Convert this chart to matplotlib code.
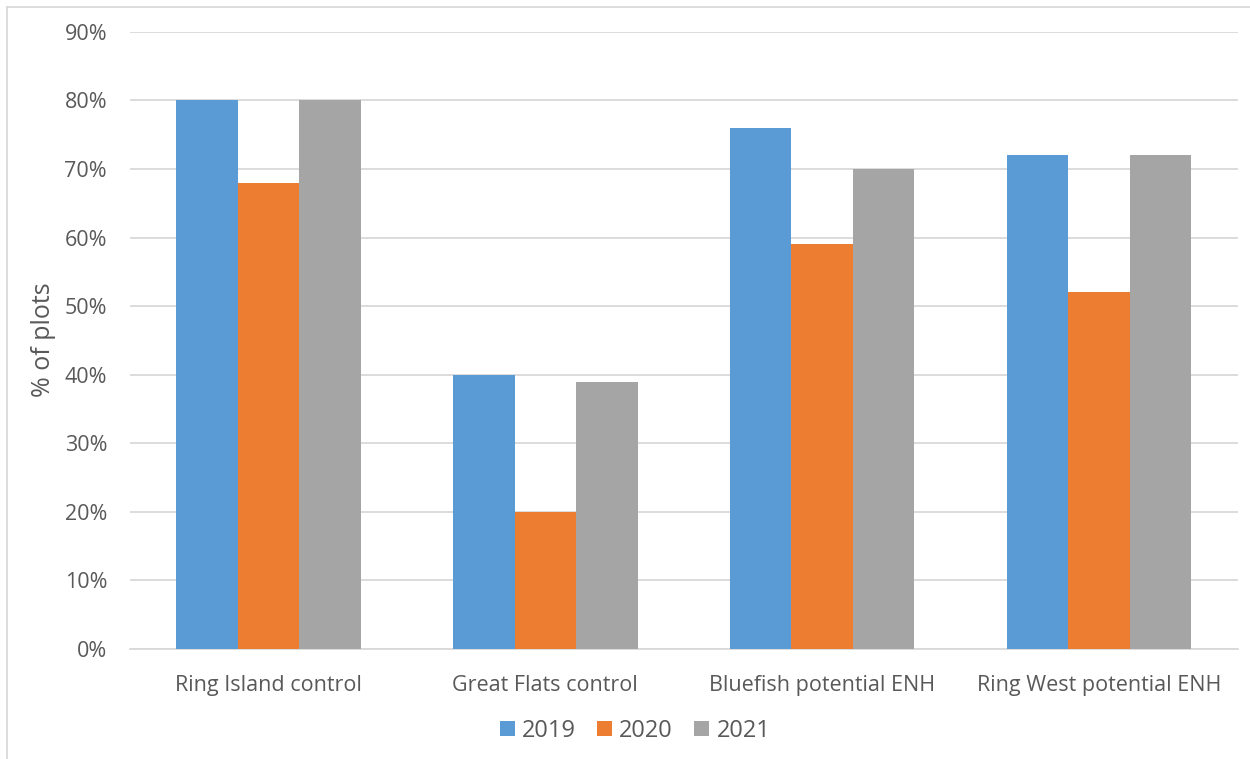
import numpy as np
import matplotlib.pyplot as plt
from matplotlib.lines import Line2D

categories = ['Ring Island control', 'Great Flats control',
              'Bluefish potential ENH', 'Ring West potential ENH']
years = ['2019', '2020', '2021']
vals_2019 = [80, 40, 76, 72]
vals_2020 = [68, 20, 59, 52]
vals_2021 = [80, 39, 70, 72]
colors = ['#5B9BD5', '#ED7D31', '#A5A5A5']

plt.rcParams['font.family'] = ['Open Sans', 'DejaVu Sans']
text_col = '#595959'
grid_col = '#D9D9D9'

fig = plt.figure(figsize=(12.5, 7.59), dpi=100)
ax = fig.add_axes([0.104, 0.145, 0.886, 0.813])

x = np.arange(len(categories))
w = 0.222
for i, (vals, c, lab) in enumerate(zip([vals_2019, vals_2020, vals_2021], colors, years)):
    ax.bar(x + (i - 1) * w, vals, width=w, color=c, label=lab, zorder=3)

ax.set_xlim(-0.5, len(categories) - 0.5)
ax.set_ylim(0, 90)
ax.set_yticks(range(0, 91, 10))
ax.set_yticklabels([f'{v}%' for v in range(0, 91, 10)])
ax.set_xticks(x)
ax.set_xticklabels(categories)
ax.yaxis.grid(True, color=grid_col, linewidth=1.3, zorder=0)
ax.tick_params(axis='both', length=0, labelsize=15.5, colors=text_col)
ax.tick_params(axis='y', pad=16.5)
ax.tick_params(axis='x', pad=19)
for s in ['top', 'right', 'left']:
    ax.spines[s].set_visible(False)
ax.spines['bottom'].set_color(grid_col)
ax.spines['bottom'].set_linewidth(1.3)
fig.text(44 / 1250, 1 - 340 / 759, '% of plots', rotation=90, ha='center', va='center',
         fontsize=18, color=text_col)

leg = fig.legend(loc='center', bbox_to_anchor=(0.508, 0.037), ncol=3, frameon=False,
                 fontsize=17, handlelength=0.64, handleheight=0.64, handletextpad=0.3,
                 columnspacing=0.9)
for t in leg.get_texts():
    t.set_color(text_col)

# chart area border (top and left edges visible)
fig.add_artist(Line2D([7 / 1250, 1.0], [1 - 7 / 759, 1 - 7 / 759], color=grid_col, lw=1.3,
                      transform=fig.transFigure))
fig.add_artist(Line2D([7 / 1250, 7 / 1250], [0.0, 1 - 7 / 759], color=grid_col, lw=1.3,
                      transform=fig.transFigure))

fig.savefig('out.png', dpi=100)
